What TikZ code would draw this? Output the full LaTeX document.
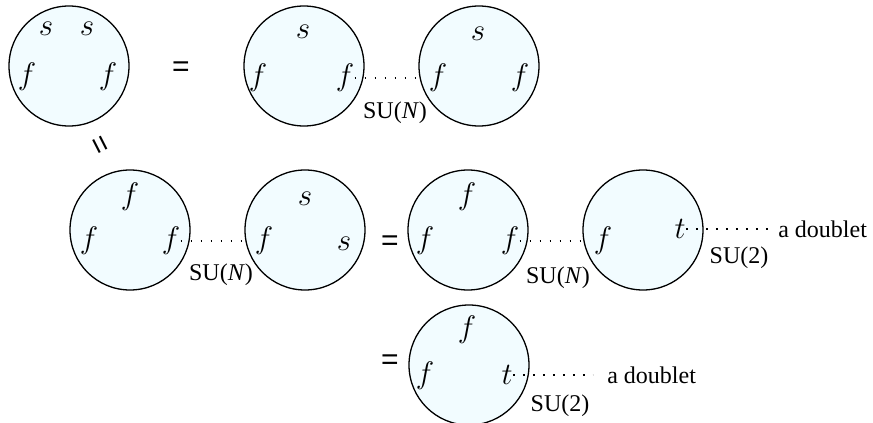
\documentclass[tikz,border=0pt]{standalone}
\usepackage{fontspec}
\setmainfont{Liberation Serif}
\newfontfamily\eqfont{Liberation Sans}
\usetikzlibrary{positioning}
\definecolor{blobfill}{RGB}{242,252,255}
\newcommand{\bl}[1]{\scalebox{1.08}{$#1$}}

\begin{document}
\begin{tikzpicture}[
    x=0.5pt, y=-0.5pt,
    blob/.style={
        draw,
        circle,
        line width=0.65pt,
        fill=blobfill,
        minimum size=60pt,
        inner sep=0pt
    },
    leg/.style={
        inner sep=0pt,
        font=\fontsize{14.4}{17}\selectfont
    },
    eq/.style={
        inner sep=0pt,
        font=\eqfont\fontsize{15}{18}\selectfont
    },
    grp/.style={
        inner sep=1pt,
        font=\fontsize{12}{14}\selectfont
    },
    link/.style={
        line width=0.9pt,
        dash pattern=on 0.9pt off 4.1pt
    }
]
\useasboundingbox (0,0) rectangle (873,423);

% Top row
\node[blob] (c1) at (69,66) {};
\node[leg] (c1s1) at (46,29) {\bl{s}};
\node[leg] (c1s2) at (87,29) {\bl{s}};
\node[leg] (c1f1) at (27,77) {\bl{f}};
\node[leg] (c1f2) at (108,77) {\bl{f}};

\node[eq] (eq1) at (181,69) {=};

\node[blob] (c2) at (304,66) {};
\node[leg] (c2s) at (303,32) {\bl{s}};
\node[leg] (c2f1) at (258,78) {\bl{f}};
\node[leg] (c2f2) at (345,78) {\bl{f}};

\node[blob] (c3) at (479,66) {};
\node[leg] (c3s) at (478,34) {\bl{s}};
\node[leg] (c3f1) at (438,78) {\bl{f}};
\node[leg] (c3f2) at (520,78) {\bl{f}};

\draw[link] (c2f2.east) -- ([xshift=-3pt]c3f1.west);
\node[grp] (su1) at (395,113) {SU(\textit{N})};

% Tilted equals
\node[eq, rotate=-63] (eq2) at (98,146) {=};

% Middle row
\node[blob] (c4) at (130,230) {};
\node[leg] (c4f1) at (130,197) {\bl{f}};
\node[leg] (c4f2) at (89,241) {\bl{f}};
\node[leg] (c4f3) at (171,241) {\bl{f}};

\node[blob] (c5) at (305,230) {};
\node[leg] (c5s1) at (305,199) {\bl{s}};
\node[leg] (c5f) at (264,241) {\bl{f}};
\node[leg] (c5s2) at (344,244) {\bl{s}};

\draw[link] (c4f3.east) -- ([xshift=-3pt]c5f.west);
\node[grp] (su2) at (221,275) {SU(\textit{N})};

\node[eq] (eq3) at (390,243) {=};

\node[blob] (c6) at (468,230) {};
\node[leg] (c6f1) at (467,197) {\bl{f}};
\node[leg] (c6f2) at (425,241) {\bl{f}};
\node[leg] (c6f3) at (510,241) {\bl{f}};

\node[blob] (c7) at (643,230) {};
\node[leg] (c7f) at (603,241) {\bl{f}};
\node[leg] (c7t) at (680,229) {\bl{t}};

\draw[link] (c6f3.east) -- ([xshift=-3pt]c7f.west);
\node[grp] (su3) at (558,278) {SU(\textit{N})};

\draw[link] (c7t.east) -- ++(82,0) coordinate (d1);
\node[grp, right=4pt of d1] (dbl1) {a doublet};
\node[grp] (su4) at (739,258) {SU(2)};

% Bottom row
\node[eq] (eq4) at (390,362) {=};

\node[blob] (c8) at (469,365) {};
\node[leg] (c8f1) at (467,330) {\bl{f}};
\node[leg] (c8f2) at (425,376) {\bl{f}};
\node[leg] (c8t) at (507,375) {\bl{t}};

\draw[link] (c8t.east) -- ++(80,0) coordinate (d2);
\node[grp, right=6pt of d2] (dbl2) {a doublet};
\node[grp] (su5) at (560,406) {SU(2)};

\end{tikzpicture}
\end{document}
